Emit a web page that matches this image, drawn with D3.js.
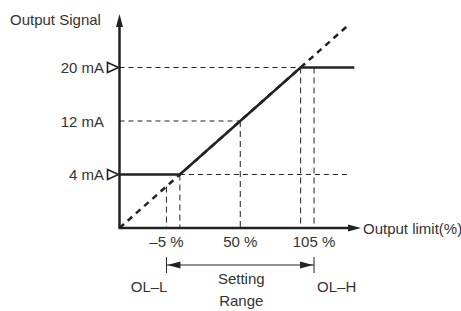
<!DOCTYPE html>
<html>
<head>
<meta charset="utf-8">
<script src="https://cdn.jsdelivr.net/npm/d3@7"></script>
<style>
  body { margin: 0; background: #fff; }
  text { font-family: "Liberation Sans", Arial, sans-serif; font-size: 15px; fill: #333; }
</style>
</head>
<body>
<div id="chart"></div>
<script>
var width = 461, height = 311;

// values (percent of range / mA)
var yTicks = [4, 12, 20];
var yLabels = ["4 mA", "12 mA", "20 mA"];
var markedTicks = [4, 20];
var xTicks = [-5, 50, 105];
var xLabels = ["\u20135 %", "50 %", "105 %"];
var outputLine = [[-40, 4], [5, 4], [95, 20], [135, 20]];
var idealLine = [[-40, -4], [131.5, 26.5]];
var guideV = [[-5, 2.2], [5, 4], [50, 12], [95, 20], [105, 20]];
var guideH = [[20, -40, 95], [12, -40, 50], [4, 5, 132]];
var limits = [["OL\u2013L", -5], ["OL\u2013H", 105]];

var x = d3.scaleLinear().domain([-40, 140]).range([119.5, 361]);
var y = d3.scaleLinear().domain([-4, 28]).range([228, 14]);
var ink = "#222";

var svg = d3.select("#chart").append("svg")
    .attr("width", width)
    .attr("height", height);

//dashed guide lines
svg.selectAll(".gv").data(guideV).enter().append("line")
    .attr("x1", function(d) { return x(d[0]); })
    .attr("x2", function(d) { return x(d[0]); })
    .attr("y1", function(d) { return y(d[1]); })
    .attr("y2", y(-4))
    .attr("stroke", ink).attr("stroke-width", 1)
    .attr("stroke-dasharray", "6,4");

svg.selectAll(".gh").data(guideH).enter().append("line")
    .attr("x1", function(d) { return x(d[1]); })
    .attr("x2", function(d) { return x(d[2]); })
    .attr("y1", function(d) { return y(d[0]); })
    .attr("y2", function(d) { return y(d[0]); })
    .attr("stroke", ink).attr("stroke-width", 1)
    .attr("stroke-dasharray", "5,4");

var line = d3.line().x(function(d) { return x(d[0]); }).y(function(d) { return y(d[1]); });

//ideal (dashed) and output (solid)
svg.append("path").attr("d", line(idealLine))
    .attr("fill", "none").attr("stroke", ink)
    .attr("stroke-width", 2.5).attr("stroke-dasharray", "6,5");

svg.append("path").attr("d", line(outputLine))
    .attr("fill", "none").attr("stroke", ink).attr("stroke-width", 2.5);

//axes
var x0 = x(-40), y0 = y(-4);
svg.append("line").attr("x1", x0).attr("y1", y0).attr("x2", x0).attr("y2", y(28) + 12)
    .attr("stroke", ink).attr("stroke-width", 2.5);
svg.append("line").attr("x1", x0 - 1).attr("y1", y0).attr("x2", x(140) - 12).attr("y2", y0)
    .attr("stroke", ink).attr("stroke-width", 2.5);
svg.append("path")
    .attr("d", "M" + x0 + "," + y(28) + "L" + (x0 - 3.5) + "," + (y(28) + 13) + "L" + (x0 + 3.5) + "," + (y(28) + 13) + "Z")
    .attr("fill", ink);
svg.append("path")
    .attr("d", "M" + x(140) + "," + y0 + "L" + (x(140) - 13) + "," + (y0 - 3.5) + "L" + (x(140) - 13) + "," + (y0 + 3.5) + "Z")
    .attr("fill", ink);

svg.append("text").attr("x", 10).attr("y", 25).text("Output Signal");
svg.append("text").attr("x", x(140) + 2).attr("y", y0 + 5.5).text("Output limit(%)");

//y ticks
svg.selectAll(".yl").data(yTicks).enter().append("text")
    .attr("x", 104)
    .attr("y", function(d) { return y(d) + 5.5; })
    .attr("text-anchor", "end")
    .text(function(d, i) { return yLabels[i]; });

svg.selectAll(".tri").data(markedTicks).enter().append("path")
    .attr("d", function(d) {
      var t = y(d);
      return "M" + (x0 - 1) + "," + t + "L" + (x0 - 12) + "," + (t - 5) + "L" + (x0 - 12) + "," + (t + 5) + "Z";
    })
    .attr("fill", "#fff").attr("stroke", ink).attr("stroke-width", 1.6);

//x ticks
svg.selectAll(".xl").data(xTicks).enter().append("text")
    .attr("x", function(d) { return x(d); })
    .attr("y", 247)
    .attr("text-anchor", "middle")
    .text(function(d, i) { return xLabels[i]; });

//setting range
var ry = 265;
svg.selectAll(".bar").data(limits).enter().append("line")
    .attr("x1", function(d) { return x(d[1]); })
    .attr("x2", function(d) { return x(d[1]); })
    .attr("y1", ry - 8).attr("y2", ry + 8)
    .attr("stroke", ink).attr("stroke-width", 1);
svg.append("line").attr("x1", x(-5)).attr("x2", x(105)).attr("y1", ry).attr("y2", ry)
    .attr("stroke", ink).attr("stroke-width", 1.2);
svg.append("path")
    .attr("d", "M" + (x(-5) + 1) + "," + ry + "L" + (x(-5) + 14) + "," + (ry - 3.5) + "L" + (x(-5) + 14) + "," + (ry + 3.5) + "Z")
    .attr("fill", ink);
svg.append("path")
    .attr("d", "M" + (x(105) - 1) + "," + ry + "L" + (x(105) - 14) + "," + (ry - 3.5) + "L" + (x(105) - 14) + "," + (ry + 3.5) + "Z")
    .attr("fill", ink);

svg.append("text").attr("x", x(-5) + 1).attr("y", 292).attr("text-anchor", "end").text(limits[0][0]);
svg.append("text").attr("x", x(105) + 3).attr("y", 292).text(limits[1][0]);
svg.append("text").attr("x", (x(-5) + x(105)) / 2 + 1).attr("y", 284).attr("text-anchor", "middle").text("Setting");
svg.append("text").attr("x", (x(-5) + x(105)) / 2 + 1).attr("y", 306).attr("text-anchor", "middle").text("Range");
</script>
</body>
</html>
